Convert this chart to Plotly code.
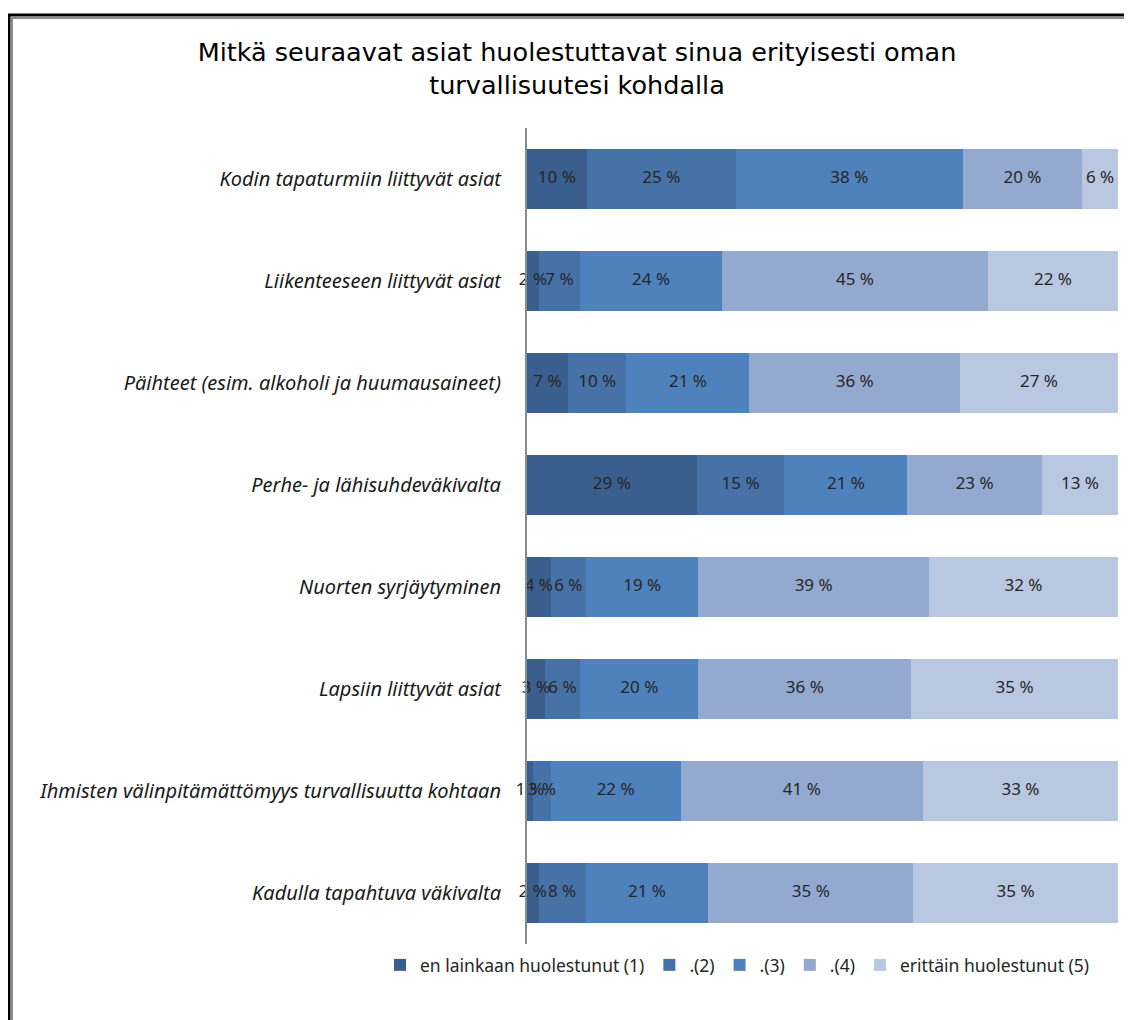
import plotly.graph_objects as go

categories = [
    "Kodin tapaturmiin liittyvät asiat",
    "Liikenteeseen liittyvät asiat",
    "Päihteet (esim. alkoholi ja huumausaineet)",
    "Perhe- ja lähisuhdeväkivalta",
    "Nuorten syrjäytyminen",
    "Lapsiin liittyvät asiat",
    "Ihmisten välinpitämättömyys turvallisuutta kohtaan",
    "Kadulla tapahtuva väkivalta",
]
series_names = ["en lainkaan huolestunut (1)", ".(2)", ".(3)", ".(4)", "erittäin huolestunut (5)"]
s1 = [10, 2, 7, 29, 4, 3, 1, 2]
s2 = [25, 7, 10, 15, 6, 6, 3, 8]
s3 = [38, 24, 21, 21, 19, 20, 22, 21]
s4 = [20, 45, 36, 23, 39, 36, 41, 35]
s5 = [6, 22, 27, 13, 32, 35, 33, 35]
series_values = [s1, s2, s3, s4, s5]
colors = ["#3A5F8F", "#4672A7", "#4F81BD", "#94A9D0", "#BAC7E1"]

title_text = "Mitkä seuraavat asiat huolestuttavat sinua erityisesti oman<br>turvallisuutesi kohdalla"

fig = go.Figure()
for name, vals, col in zip(series_names, series_values, colors):
    fig.add_trace(go.Bar(
        y=categories, x=vals, name=name, orientation="h",
        marker=dict(color=col, line=dict(width=0)),
        hoverinfo="x+name",
    ))

# data labels at segment centres (normalised to 100 %)
totals = [sum(col) for col in zip(*series_values)]
cum = [0.0] * len(categories)
for vals in series_values:
    mids = []
    for i, v in enumerate(vals):
        p = v / totals[i] * 100
        mids.append(cum[i] + p / 2)
        cum[i] += p
    fig.add_trace(go.Scatter(
        y=categories, x=mids, mode="text",
        text=[f"{v} %" for v in vals],
        textposition="middle center",
        textfont=dict(family="Noto Sans", size=17, color="#262626"),
        showlegend=False, hoverinfo="skip", cliponaxis=False,
    ))

# page body has an 8px margin; layout pixel coords = screen coords - 8
OFF = 8
W, H = 1132, 1020
L, R, T, B = 527 - OFF, W - (1118 - OFF), 128 - OFF, H - (944 - OFF)
pw, ph = W - L - R, H - T - B

def px_x(px):
    return (px - OFF - L) / pw

def px_y(py):
    return (H - B - (py - OFF)) / ph

shapes = [
    dict(type="line", xref="paper", yref="paper", x0=px_x(8), x1=px_x(1145), y0=px_y(15), y1=px_y(15),
         line=dict(color="#000000", width=3)),
    dict(type="line", xref="paper", yref="paper", x0=px_x(12), x1=px_x(1145), y0=px_y(18), y1=px_y(18),
         line=dict(color="#8C8C8C", width=2)),
    dict(type="line", xref="paper", yref="paper", x0=px_x(9), x1=px_x(9), y0=px_y(14), y1=px_y(1040),
         line=dict(color="#000000", width=3)),
    dict(type="line", xref="paper", yref="paper", x0=px_x(12), x1=px_x(12), y0=px_y(17), y1=px_y(1040),
         line=dict(color="#8C8C8C", width=2)),
]

fig.update_layout(
    width=W, height=H,
    margin=dict(l=L, r=R, t=T, b=B),
    paper_bgcolor="white", plot_bgcolor="white",
    barmode="stack", barnorm="percent", bargap=0.41,
    title=dict(text=title_text, x=(577 - OFF) / W, xanchor="center",
               y=1 - (61 - OFF) / H, yanchor="middle",
               font=dict(family="DejaVu Sans", size=25.5, color="#000000")),
    showlegend=True,
    legend=dict(orientation="h", x=px_x(380), xanchor="left", y=px_y(965), yanchor="middle",
                font=dict(family="Noto Sans", size=17.5, color="#262626"),
                traceorder="normal", itemwidth=30, tracegroupgap=0),
    shapes=shapes,
)
fig.update_xaxes(range=[0, 100], visible=False, fixedrange=True)
fig.update_yaxes(autorange="reversed", showline=True, linecolor="#8C8C8C", linewidth=2,
                 ticks="", showgrid=False, ticklabelstandoff=20,
                 tickfont=dict(family="Noto Sans", size=20, color="#1a1a1a", style="italic"))

fig.write_html("out.html")
